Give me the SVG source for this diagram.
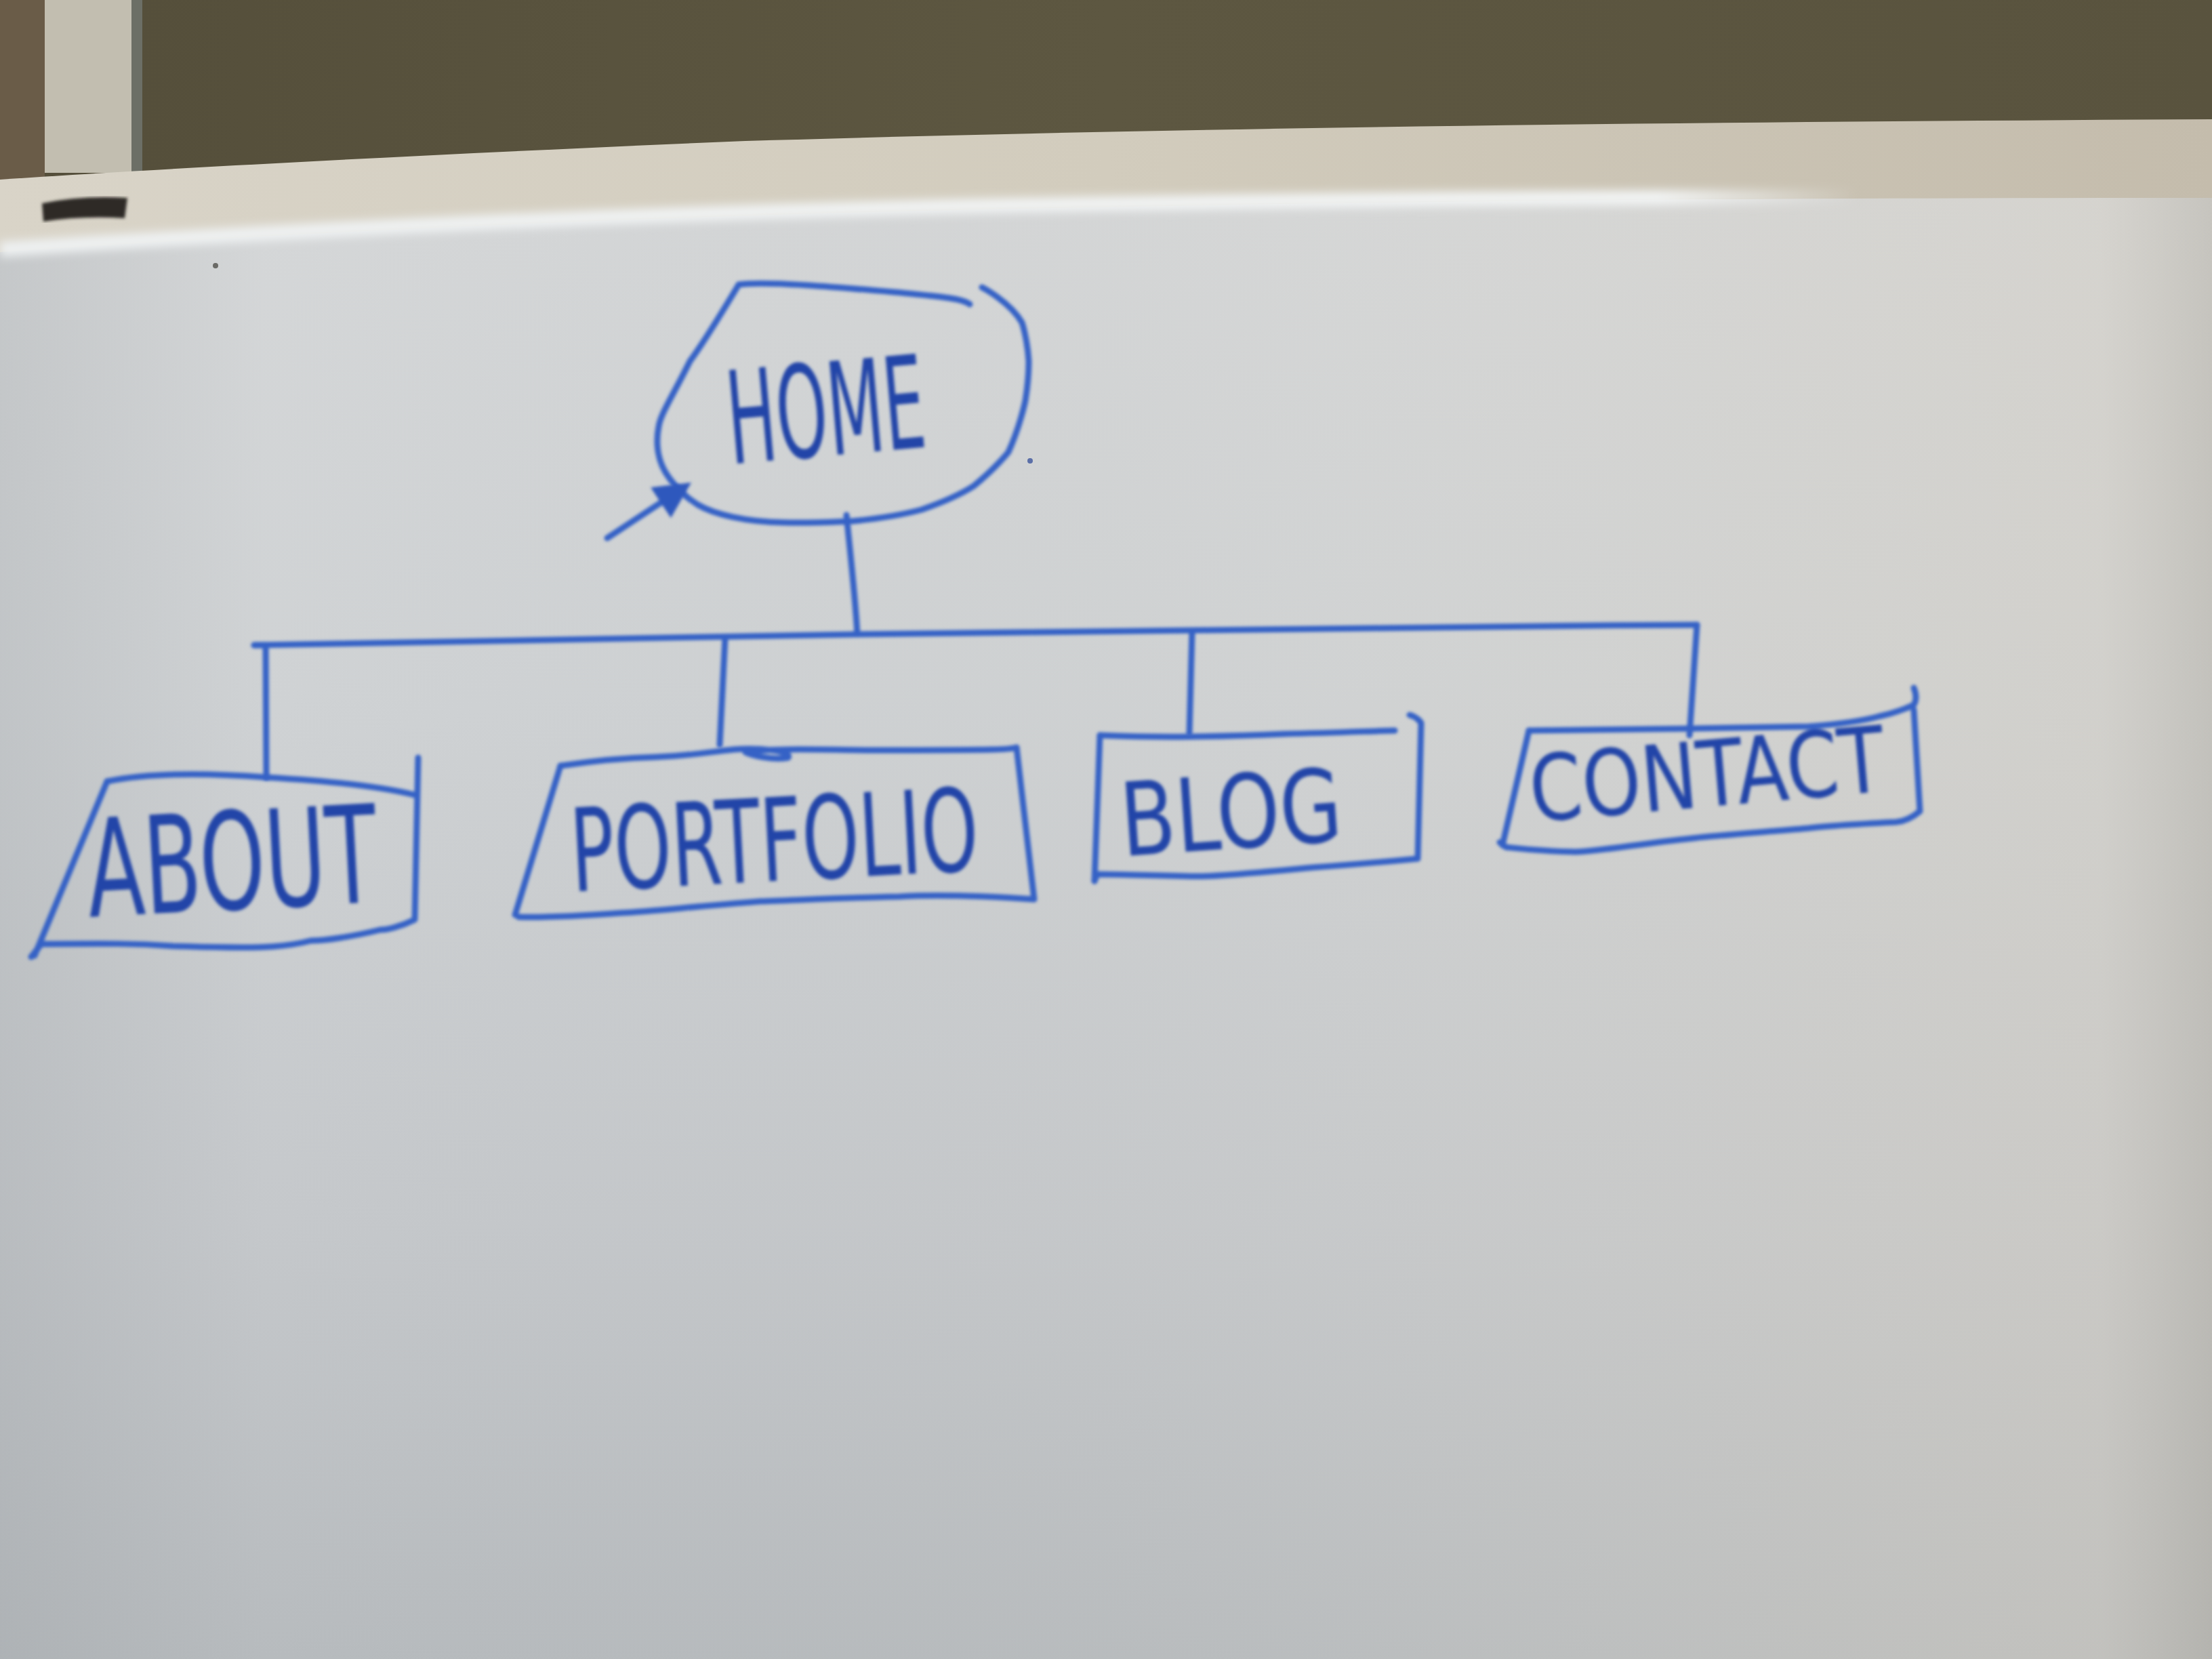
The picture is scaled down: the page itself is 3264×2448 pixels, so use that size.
<svg xmlns="http://www.w3.org/2000/svg" width="3264" height="2448" viewBox="0 0 3264 2448">
<defs>
<linearGradient id="boardV" x1="0" y1="0" x2="0" y2="1">
<stop offset="0" stop-color="#d5d7d8"/>
<stop offset="0.35" stop-color="#cfd2d4"/>
<stop offset="0.7" stop-color="#c5c8cb"/>
<stop offset="1" stop-color="#b7bbbe"/>
</linearGradient>
<linearGradient id="boardH" x1="0" y1="0" x2="1" y2="0">
<stop offset="0" stop-color="#8f9498" stop-opacity="0.22"/>
<stop offset="0.12" stop-color="#8f9498" stop-opacity="0"/>
<stop offset="0.6" stop-color="#d8d2c6" stop-opacity="0.1"/>
<stop offset="0.95" stop-color="#d6cdbd" stop-opacity="0.35"/>
<stop offset="1" stop-color="#b0a898" stop-opacity="0.4"/>
</linearGradient>
<linearGradient id="frameG" x1="0" y1="0" x2="1" y2="0">
<stop offset="0" stop-color="#d9d4c8"/>
<stop offset="0.5" stop-color="#d2ccbd"/>
<stop offset="1" stop-color="#c4bcac"/>
</linearGradient>
<linearGradient id="wall" x1="0" y1="0" x2="1" y2="0">
<stop offset="0" stop-color="#544e3a"/>
<stop offset="0.5" stop-color="#5d5741"/>
<stop offset="1" stop-color="#59533e"/>
</linearGradient>
<linearGradient id="hl" x1="0" y1="0" x2="1" y2="0">
<stop offset="0" stop-color="#eef1f2"/>
<stop offset="0.75" stop-color="#f2f4f4"/>
<stop offset="0.84" stop-color="#eef0f0" stop-opacity="0"/>
</linearGradient>
<filter id="soft" x="-5%" y="-5%" width="110%" height="110%"><feGaussianBlur stdDeviation="2"/></filter>
<filter id="blur8" x="-5%" y="-50%" width="110%" height="200%"><feGaussianBlur stdDeviation="7"/></filter>
<marker id="ah" markerWidth="6" markerHeight="6" refX="4" refY="3" orient="auto" markerUnits="strokeWidth">
<path d="M0,0 L6,3 L0,6 Z" fill="#2f58bd"/>
</marker>
<style>
.ink{fill:none;stroke:#3462c6;stroke-width:9;stroke-linecap:round;stroke-linejoin:round}
.lbl{font-family:"Liberation Sans Narrow","DejaVu Sans Condensed","Liberation Sans",sans-serif;fill:#2245a8}
</style>
</defs>

<!-- background: wall, post, frame, board -->
<rect x="0" y="0" width="3264" height="2448" fill="url(#wall)"/>
<rect x="0" y="0" width="66" height="270" fill="#6a5c48"/>
<rect x="66" y="0" width="130" height="255" fill="#c2beb0"/>
<rect x="194" y="0" width="16" height="255" fill="#6c6f66"/>
<path d="M0,265 C300,245 700,225 1100,208 C1700,190 2400,180 3264,176 L3264,2448 L0,2448 Z" fill="url(#frameG)"/>
<path d="M0,372 C400,345 1000,315 1665,305 C2200,295 2700,292 3264,292 L3264,2448 L0,2448 Z" fill="url(#boardV)"/>
<path d="M0,372 C400,345 1000,315 1665,305 C2200,295 2700,292 3264,292 L3264,2448 L0,2448 Z" fill="url(#boardH)"/>
<path d="M0,368 C400,341 1000,309 1665,300 C2200,291 2700,289 3264,289" fill="none" stroke="url(#hl)" stroke-width="22" filter="url(#blur8)"/>
<path d="M62,300 Q120,288 188,292 L184,322 Q120,318 64,327 Z" fill="#2e2a28" filter="url(#soft)"/>
<circle cx="318" cy="392" r="4" fill="#6a6a66"/>
<circle cx="1520" cy="680" r="4" fill="#5b6fa8"/>

<!-- nodes -->
<g id="home" filter="url(#soft)">
<path class="ink" d="M1090,420 C1130,414 1250,425 1330,432 C1380,437 1420,440 1431,449"/>
<path class="ink" d="M1090,420 C1060,470 1035,510 1018,533 C995,580 975,610 972,629 C968,650 968,680 988,706 C1000,722 1010,732 1030,745 C1054,759 1100,770 1156,771 C1200,772 1230,770 1258,769 C1300,765 1330,760 1360,752 C1400,738 1420,728 1437,717 C1470,690 1488,667 1488,667 C1505,630 1513,591 1513,591 C1518,560 1518,533 1518,533 C1516,500 1508,476 1508,476 C1490,445 1449,424 1449,424"/>
<text class="lbl" x="1072" y="672" font-size="190" textLength="292" lengthAdjust="spacingAndGlyphs" transform="rotate(-5 1220 600)">HOME</text>
</g>

<g id="about" filter="url(#soft)">
<path class="ink" d="M158,1153 C220,1140 300,1140 393,1147 C480,1152 560,1160 612,1173"/>
<path class="ink" d="M617,1118 L612,1357 C590,1368 570,1372 561,1372 C520,1382 480,1388 459,1388 C420,1398 380,1398 357,1398 C300,1398 270,1396 255,1396 C200,1392 160,1392 61,1393 L46,1412"/>
<path class="ink" d="M158,1153 L51,1410"/>
<text class="lbl" x="128" y="1342" font-size="200" textLength="428" lengthAdjust="spacingAndGlyphs" transform="rotate(-3 340 1270)">ABOUT</text>
</g>

<g id="portfolio" filter="url(#soft)">
<path class="ink" d="M827,1130 C880,1122 930,1118 969,1117 C1020,1115 1060,1108 1082,1106 C1120,1103 1170,1108 1163,1118 C1140,1122 1110,1115 1100,1110 C1150,1102 1250,1108 1327,1107 C1420,1106 1480,1108 1500,1103"/>
<path class="ink" d="M1500,1103 L1526,1327 C1450,1322 1380,1320 1327,1323 C1240,1325 1180,1328 1122,1330 C1020,1338 960,1345 918,1347 C850,1352 800,1354 765,1353"/>
<path class="ink" d="M827,1130 L760,1350"/>
<text class="lbl" x="842" y="1300" font-size="170" textLength="602" lengthAdjust="spacingAndGlyphs" transform="rotate(-3 1140 1250)">PORTFOLIO</text>
</g>

<g id="blog" filter="url(#soft)">
<path class="ink" d="M1623,1085 C1700,1088 1757,1087 1757,1087 C1830,1086 1894,1083 1894,1083 C1980,1081 2040,1078 2058,1078"/>
<path class="ink" d="M2080,1055 C2092,1058 2097,1067 2097,1067 L2092,1267 C2030,1273 1980,1277 1937,1280 C1850,1288 1800,1293 1765,1293 C1700,1292 1650,1290 1619,1290 L1615,1300"/>
<path class="ink" d="M1623,1085 L1615,1300"/>
<text class="lbl" x="1653" y="1252" font-size="150" textLength="327" lengthAdjust="spacingAndGlyphs" transform="rotate(-4 1815 1200)">BLOG</text>
</g>

<g id="contact" filter="url(#soft)">
<path class="ink" d="M2256,1078 C2350,1077 2440,1075 2497,1075 C2580,1074 2630,1073 2669,1072 C2720,1068 2755,1062 2773,1057 C2805,1050 2824,1040 2824,1040 C2830,1030 2826,1020 2824,1015"/>
<path class="ink" d="M2824,1047 L2833,1197 C2820,1208 2810,1212 2798,1213 C2740,1216 2700,1218 2669,1222 C2600,1228 2540,1232 2497,1237 C2420,1245 2360,1256 2325,1257 C2270,1256 2240,1252 2222,1250 L2213,1243"/>
<path class="ink" d="M2256,1078 L2217,1247"/>
<text class="lbl" x="2256" y="1190" font-size="135" textLength="525" lengthAdjust="spacingAndGlyphs" transform="rotate(-5 2520 1140)">CONTACT</text>
</g>

<!-- connectors -->
<g id="connectors" filter="url(#soft)">
<path class="ink" d="M1249,760 C1255,820 1262,880 1265,936"/>
<path class="ink" d="M375,952 C700,945 1000,940 1265,936 C1700,928 2100,924 2504,922"/>
<path class="ink" d="M375,952 L392,952 L393,1147"/>
<path class="ink" d="M1070,941 L1062,1099"/>
<path class="ink" d="M1759,933 L1755,1082"/>
<path class="ink" d="M2504,922 L2493,1085"/>
<path class="ink" d="M896,794 L1005,722" marker-end="url(#ah)"/>
</g>
</svg>
